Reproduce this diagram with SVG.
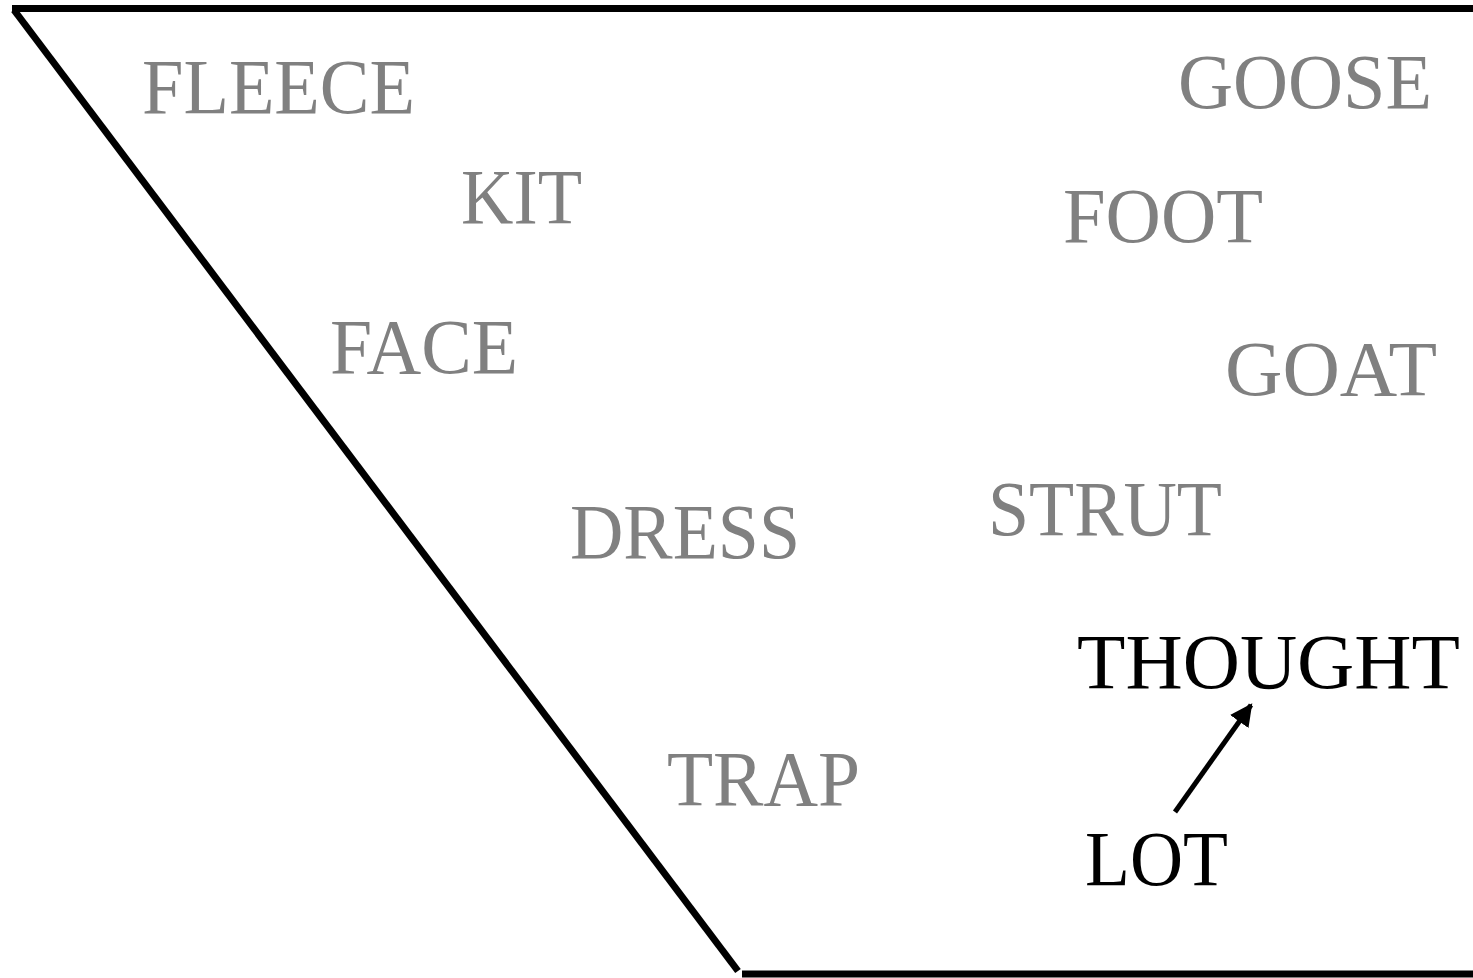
<svg xmlns="http://www.w3.org/2000/svg" width="1473" height="978" viewBox="0 0 1473 978">
<style>
.lbl{font-family:"Liberation Serif","DejaVu Serif",serif;font-size:79px;}
.g{fill:#808080;}
.k{fill:#000;}
.ln{stroke:#000;stroke-width:7;fill:none;}
</style>
<defs>
<marker id="ah" viewBox="0 0 10 10" refX="9" refY="5" markerWidth="4.5" markerHeight="4.5" orient="auto" markerUnits="strokeWidth">
<path d="M0,0 L10,5 L0,10 Z" fill="#000"/>
</marker>
</defs>
<rect width="1473" height="978" fill="#fff"/>
<g id="chart">
<line class="ln" x1="12" y1="8.5" x2="1473" y2="8.5"/>
<line class="ln" x1="14" y1="10" x2="738" y2="971"/>
<line class="ln" x1="742" y1="974" x2="1473" y2="974"/>
</g>
<g id="FLEECE"><text class="lbl g" x="142" y="113" textLength="273" lengthAdjust="spacingAndGlyphs">FLEECE</text></g>
<g id="KIT"><text class="lbl g" x="461" y="223" textLength="121" lengthAdjust="spacingAndGlyphs">KIT</text></g>
<g id="FACE"><text class="lbl g" x="330" y="373" textLength="188" lengthAdjust="spacingAndGlyphs">FACE</text></g>
<g id="DRESS"><text class="lbl g" x="570" y="558" textLength="230" lengthAdjust="spacingAndGlyphs">DRESS</text></g>
<g id="TRAP"><text class="lbl g" x="667" y="805" textLength="193" lengthAdjust="spacingAndGlyphs">TRAP</text></g>
<g id="GOOSE"><text class="lbl g" x="1178" y="108" textLength="254" lengthAdjust="spacingAndGlyphs">GOOSE</text></g>
<g id="FOOT"><text class="lbl g" x="1063" y="242" textLength="200" lengthAdjust="spacingAndGlyphs">FOOT</text></g>
<g id="GOAT"><text class="lbl g" x="1225" y="395" textLength="212" lengthAdjust="spacingAndGlyphs">GOAT</text></g>
<g id="STRUT"><text class="lbl g" x="988" y="535" textLength="234" lengthAdjust="spacingAndGlyphs">STRUT</text></g>
<g id="THOUGHT"><text class="lbl k" x="1077" y="688" textLength="383" lengthAdjust="spacingAndGlyphs">THOUGHT</text></g>
<g id="LOT"><text class="lbl k" x="1085" y="885" textLength="143" lengthAdjust="spacingAndGlyphs">LOT</text></g>
<g id="connectors">
<line x1="1175" y1="812" x2="1251" y2="705" stroke="#000" stroke-width="5" marker-end="url(#ah)"/>
</g>
</svg>
